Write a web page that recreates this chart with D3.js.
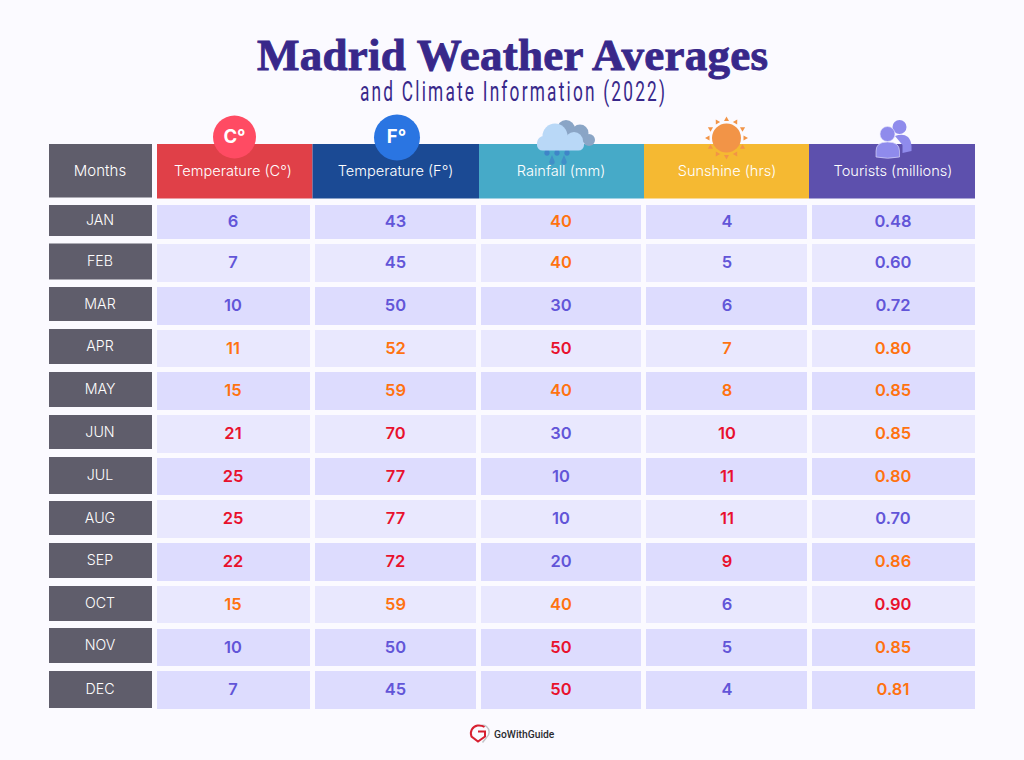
<!DOCTYPE html>
<html><head><meta charset="utf-8">
<script src="https://cdn.jsdelivr.net/npm/d3@7/dist/d3.min.js"></script>
<style>html,body{margin:0;padding:0;background:#fbfaff;overflow:hidden}svg{display:block}</style>
</head><body><svg id="c" width="1024" height="760"></svg>
<script>
const months=["JAN","FEB","MAR","APR","MAY","JUN","JUL","AUG","SEP","OCT","NOV","DEC"];
const columns=["Temperature (C°)","Temperature (F°)","Rainfall (mm)","Sunshine (hrs)","Tourists (millions)"];
const tempC=[6,7,10,11,15,21,25,25,22,15,10,7];
const tempF=[43,45,50,52,59,70,77,77,72,59,50,45];
const rainfall=[40,40,30,50,40,30,10,10,20,40,50,50];
const sunshine=[4,5,6,7,8,10,11,11,9,6,5,4];
const tourists=[0.48,0.60,0.72,0.80,0.85,0.85,0.80,0.70,0.86,0.90,0.85,0.81];
const thresholds=[[11,21],[51,70],[40,50],[7,9],[0.8,0.9]];
const headerColors=["#e04048","#1b4a94","#46aac8","#f5b932","#5d50ad"];

// layout
const svg=d3.select("#c");
const sans="Inter, 'Noto Sans', sans-serif";
const series=[tempC,tempF,rainfall,sunshine,tourists];
const headX=d3.scaleOrdinal(columns,[157,312.5,479,644,809]);
const headW=d3.scaleOrdinal(columns,[155.5,166.5,165,165,166]);
const cellX=d3.scaleOrdinal(columns,[157,315,481,646,812]);
const cellW=d3.scaleOrdinal(columns,[153,161,160,161,163]);
const textX=d3.scaleOrdinal(columns,[233,395.5,561,727,893]);
const rowTop=d3.scaleOrdinal(months,[205,244,287,330,372,415,458,500,543,586,629,671]);
const rowH=d3.scaleOrdinal(months,[34,38,38,37,38,38,37,38,38,37,37,38]);
const monthTop=d3.scaleOrdinal(months,[205,243.5,287,329,372,415,457,501,543,586,628,671]);
const monthH=d3.scaleOrdinal(months,[31,36,34,35,35,34,37,34,35,35,35,37]);
const rowFill=d3.scaleOrdinal(months,["#dddcfe","#e9e8fe","#dddcfe","#e9e8fe","#dddcfe","#e9e8fe","#dddcfe","#e9e8fe","#dddcfe","#e9e8fe","#dddcfe","#dddcfe"]);
const heat=t=>d3.scaleThreshold(t,["#6255d8","#ff7210","#e8112d"]);

svg.append("text").attr("x",512.5).attr("y",70).attr("text-anchor","middle")
 .attr("font-family","'Liberation Serif',serif").attr("font-weight",700).attr("font-size",45)
 .attr("textLength",511).attr("lengthAdjust","spacing")
 .attr("fill","#38288a").attr("stroke","#38288a").attr("stroke-width",0.9)
 .text("Madrid Weather Averages");
// condensed subtitle: a regular face squeezed horizontally
const squeeze=0.64;
svg.append("text").attr("transform",`translate(512.5,101) scale(${squeeze},1)`).attr("text-anchor","middle")
 .attr("font-family","Roboto,sans-serif").attr("font-weight",400).attr("font-size",27)
 .attr("textLength",305/squeeze).attr("lengthAdjust","spacing").attr("fill","#38288a")
 .text("and Climate Information (2022)");

// header
svg.append("rect").attr("x",49).attr("y",144).attr("width",103).attr("height",53.5).attr("fill","#5f5d6b");
svg.selectAll(".h").data(columns).join("rect").attr("class","h")
 .attr("x",d=>headX(d)).attr("y",144).attr("width",d=>headW(d)).attr("height",54.5)
 .attr("fill",(d,i)=>headerColors[i]);

// icons
const ic=svg.append("g");
ic.append("circle").attr("cx",234.5).attr("cy",137).attr("r",21.5).attr("fill","#ff4b63");
ic.append("circle").attr("cx",397).attr("cy",137.5).attr("r",23).attr("fill","#2a75e2");
[["C°",234.5],["F°",396.5]].forEach(([t,x])=>ic.append("text").attr("x",x).attr("y",143).attr("text-anchor","middle")
 .attr("font-family",sans).attr("font-weight",700).attr("font-size",18.5).attr("fill","#fff").text(t));
// rain cloud
const back=ic.append("g").attr("fill","#8aa5c6");
[[566,129,9],[580,133,8.5],[589,140,6],[575,138,10]].forEach(c=>back.append("circle").attr("cx",c[0]).attr("cy",c[1]).attr("r",c[2]));
const rain=ic.append("g").attr("fill","#3f83c8");
[[547,146],[557,146],[567,146],[552,155],[564,155]].forEach((p,i)=>rain.append("path")
 .attr("d",`M${p[0]},${p[1]}l2.5,6a2.7,2.7 0 1 1 -5,0z`).attr("opacity",i<3?0.95:0.7));
const front=ic.append("g").attr("fill","#b9d8f7");
[[555,136,12.5],[574,141,9],[544,143,7]].forEach(c=>front.append("circle").attr("cx",c[0]).attr("cy",c[1]).attr("r",c[2]));
front.append("rect").attr("x",537).attr("y",139).attr("width",47).attr("height",11.5).attr("rx",5.5);
// sun
const sun=ic.append("g").attr("fill","#f29447");
sun.append("circle").attr("cx",726.5).attr("cy",138).attr("r",14.5);
d3.range(12).forEach(i=>sun.append("path").attr("d","M-2.500,-17L2.500,-17L0,-21.500Z")
 .attr("transform",`translate(726.5,138) rotate(${i*30})`));
// people
const back2=ic.append("g").attr("fill","#8f8bec");
back2.append("circle").attr("cx",899.5).attr("cy",127).attr("r",7);
back2.append("path").attr("d","M895,136q8,-3 13,1q3,3 3.500,9v5l-9,2V145z");
const fr=ic.append("g").attr("fill","#8f8bec").attr("stroke","#e4e3fb").attr("stroke-width",0.6);
fr.append("circle").attr("cx",887.5).attr("cy",134).attr("r",7.5);
fr.append("path").attr("d","M876,157v-6q0,-9 11.500,-9q12,0 12,9v6q-12,2.500 -23.500,0z");

// header labels
svg.append("text").attr("x",100).attr("y",176).attr("text-anchor","middle").attr("font-family",sans)
 .attr("font-weight",300).attr("font-size",15).attr("fill","#ffffff").text("Months");
svg.selectAll(".hl").data(columns).join("text").attr("class","hl")
 .attr("x",d=>textX(d)).attr("y",176).attr("text-anchor","middle").attr("font-family",sans)
 .attr("font-weight",300).attr("font-size",14.6).attr("fill","#ffffff").text(d=>d);

// months
svg.selectAll(".m").data(months).join("rect").attr("class","m")
 .attr("x",49).attr("width",103).attr("y",d=>monthTop(d)).attr("height",d=>monthH(d)).attr("fill","#5f5d6b");
svg.selectAll(".ml").data(months).join("text").attr("class","ml")
 .attr("x",100).attr("y",d=>monthTop(d)+monthH(d)/2+4.5).attr("text-anchor","middle").attr("font-family",sans)
 .attr("font-weight",300).attr("font-size",14.2).attr("fill","#ffffff").text(d=>d);

// body
columns.forEach((c,ci)=>{
 const color=heat(thresholds[ci]);
 const g=svg.append("g");
 g.selectAll("rect").data(months).join("rect")
  .attr("x",cellX(c)).attr("width",cellW(c)).attr("y",d=>rowTop(d)).attr("height",d=>rowH(d)).attr("fill",d=>rowFill(d));
 g.selectAll("text").data(series[ci]).join("text")
  .attr("x",textX(c)).attr("y",(d,i)=>rowTop(months[i])+rowH(months[i])/2+5.3)
  .attr("text-anchor","middle").attr("font-family",sans).attr("font-weight",600).attr("font-size",16.5)
  .attr("fill",d=>color(d)).text(d=>ci===4?d3.format(".2f")(d):d);
});

// footer
const lg=svg.append("g").attr("transform","translate(-2.5,0)");
lg.append("path").attr("d","M484,725.500q3,-0.500 5,1a7,7 0 0 1 0,11l-4,5").attr("fill","none").attr("stroke","#c4c4c8").attr("stroke-width",1.500);
lg.append("path").attr("d","M487,727q-3,-2 -7,-1.500a8,8 0 0 0 -6,11l6.500,5l7,-5v-5h-7").attr("fill","none").attr("stroke","#d71f30").attr("stroke-width",2);
svg.append("text").attr("x",494).attr("y",738).attr("font-family","Roboto, sans-serif").attr("font-weight",500).attr("font-size",10.3)
 .attr("fill","#2a2a30").text("GoWithGuide");
</script></body></html>
